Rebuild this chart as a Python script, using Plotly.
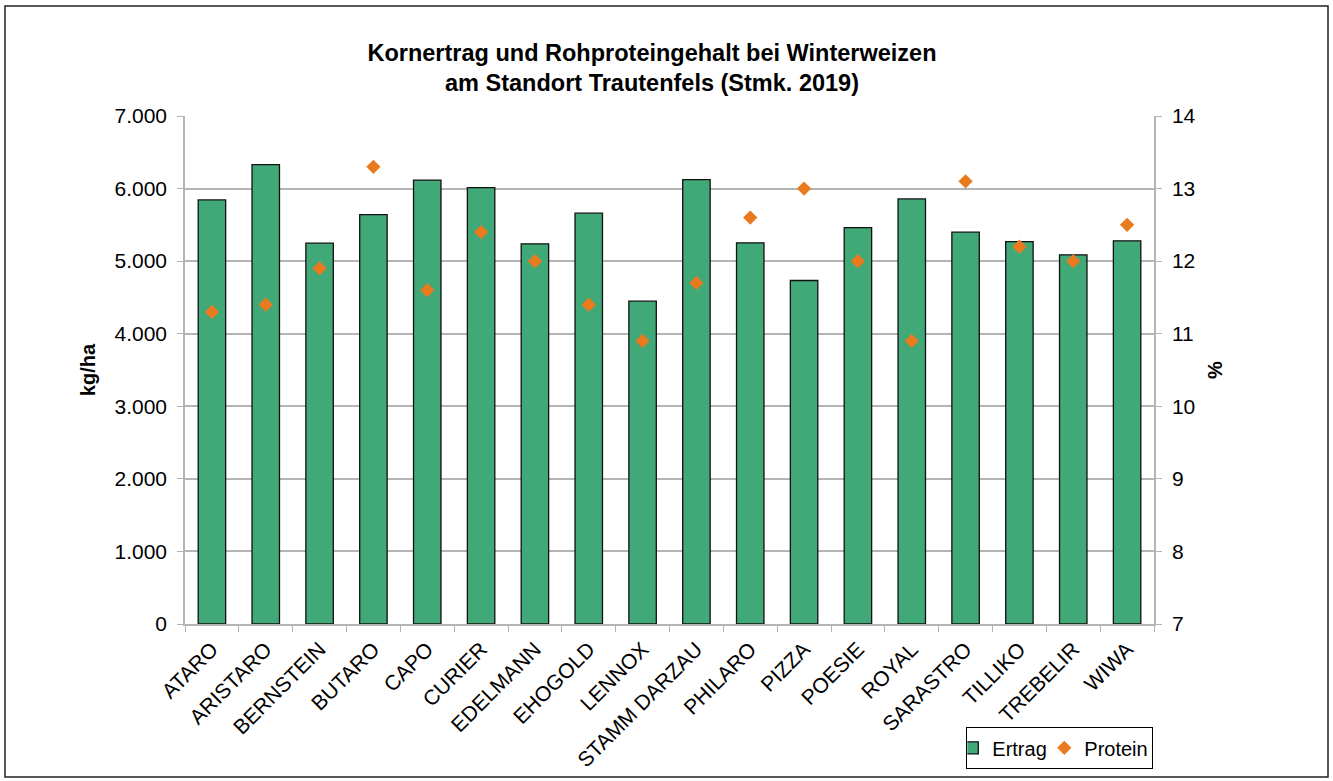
import plotly.graph_objects as go

sorten = ["ATARO", "ARISTARO", "BERNSTEIN", "BUTARO", "CAPO", "CURIER", "EDELMANN",
          "EHOGOLD", "LENNOX", "STAMM DARZAU", "PHILARO", "PIZZA", "POESIE", "ROYAL",
          "SARASTRO", "TILLIKO", "TREBELIR", "WIWA"]
ertrag = [5844, 6331, 5248, 5640, 6116, 6014, 5238, 5661, 4449,
          6124, 5252, 4733, 5463, 5858, 5399, 5270, 5087, 5280]
protein = [11.3, 11.4, 11.9, 13.3, 11.6, 12.4, 12.0, 11.4, 10.9,
           11.7, 12.6, 13.0, 12.0, 10.9, 13.1, 12.2, 12.0, 12.5]

FONT = "Liberation Sans, Arial, sans-serif"
GREEN = "#41A878"
ORANGE = "#EA7A1E"
GRID = "#b4b4b4"

fig = go.Figure()
fig.add_trace(go.Bar(x=sorten, y=ertrag, name="Ertrag",
                     marker=dict(color=GREEN, line=dict(color="#111111", width=1.3)),
                     yaxis="y"))
fig.add_trace(go.Scatter(x=sorten, y=protein, name="Protein", mode="markers",
                         marker=dict(symbol="diamond", color=ORANGE, size=11),
                         yaxis="y2"))

L, R, T, B = 185, 1154, 116, 624
W, H = 1333, 781
pw, ph = R - L, B - T

fig.update_layout(
    width=W, height=H,
    margin=dict(l=L, r=W - R, t=T, b=H - B, autoexpand=False),
    paper_bgcolor="white", plot_bgcolor="white",
    font=dict(family=FONT, size=20, color="black"),
    separators=",.",
    bargap=0.49,
    title=dict(text="<b>Kornertrag und Rohproteingehalt bei Winterweizen<br>am Standort Trautenfels (Stmk. 2019)</b>",
               font=dict(family=FONT, size=23.5, color="black"),
               x=652 / W, xref="container", xanchor="center",
               y=1 - 60.5 / H, yref="container", yanchor="middle"),
    xaxis=dict(type="category", range=[-0.5, len(sorten) - 0.5], tickangle=-45,
               ticks="outside", tickson="boundaries", ticklabelstandoff=3,
               ticklen=6, tickcolor=GRID, showline=True, linecolor=GRID, linewidth=1.5,
               showgrid=False, tickfont=dict(size=21)),
    yaxis=dict(range=[0, 7000], dtick=1000, tickformat=",d", ticks="outside", ticklen=6,
               tickcolor=GRID, showline=True, linecolor=GRID, linewidth=1.5,
               showgrid=True, gridcolor=GRID, gridwidth=1.5, zeroline=False,
               tickfont=dict(size=21), ticklabelstandoff=6,
               title=dict(text="<b>kg/ha</b>", standoff=13, font=dict(size=20))),
    yaxis2=dict(range=[7, 14], dtick=1, overlaying="y", side="right", ticks="outside",
                ticklen=6, tickcolor=GRID, showline=True, linecolor=GRID, linewidth=1.5,
                showgrid=False, zeroline=False, tickfont=dict(size=21), ticklabelstandoff=6,
                title=dict(text="<b>%</b>", standoff=13, font=dict(size=20))),
    showlegend=True,
    legend=dict(orientation="h", x=(1153 - L) / pw, y=(B - 748) / ph,
                xanchor="right", yanchor="middle", bgcolor="white",
                bordercolor="black", borderwidth=1.3, font=dict(size=20),
                itemwidth=30, tracegroupgap=0, indentation=-15, entrywidth=62),
    shapes=[dict(type="rect", xref="paper", yref="paper",
                 x0=(5 - L) / pw, x1=(1328 - L) / pw,
                 y0=(B - 777) / ph, y1=(B - 6) / ph,
                 line=dict(color="#222222", width=1.5), fillcolor="rgba(0,0,0,0)",
                 layer="below")],
)

fig.write_html("out.html", config={"displayModeBar": False},
               post_script="document.body.style.margin='0';document.body.style.overflow='hidden';")
